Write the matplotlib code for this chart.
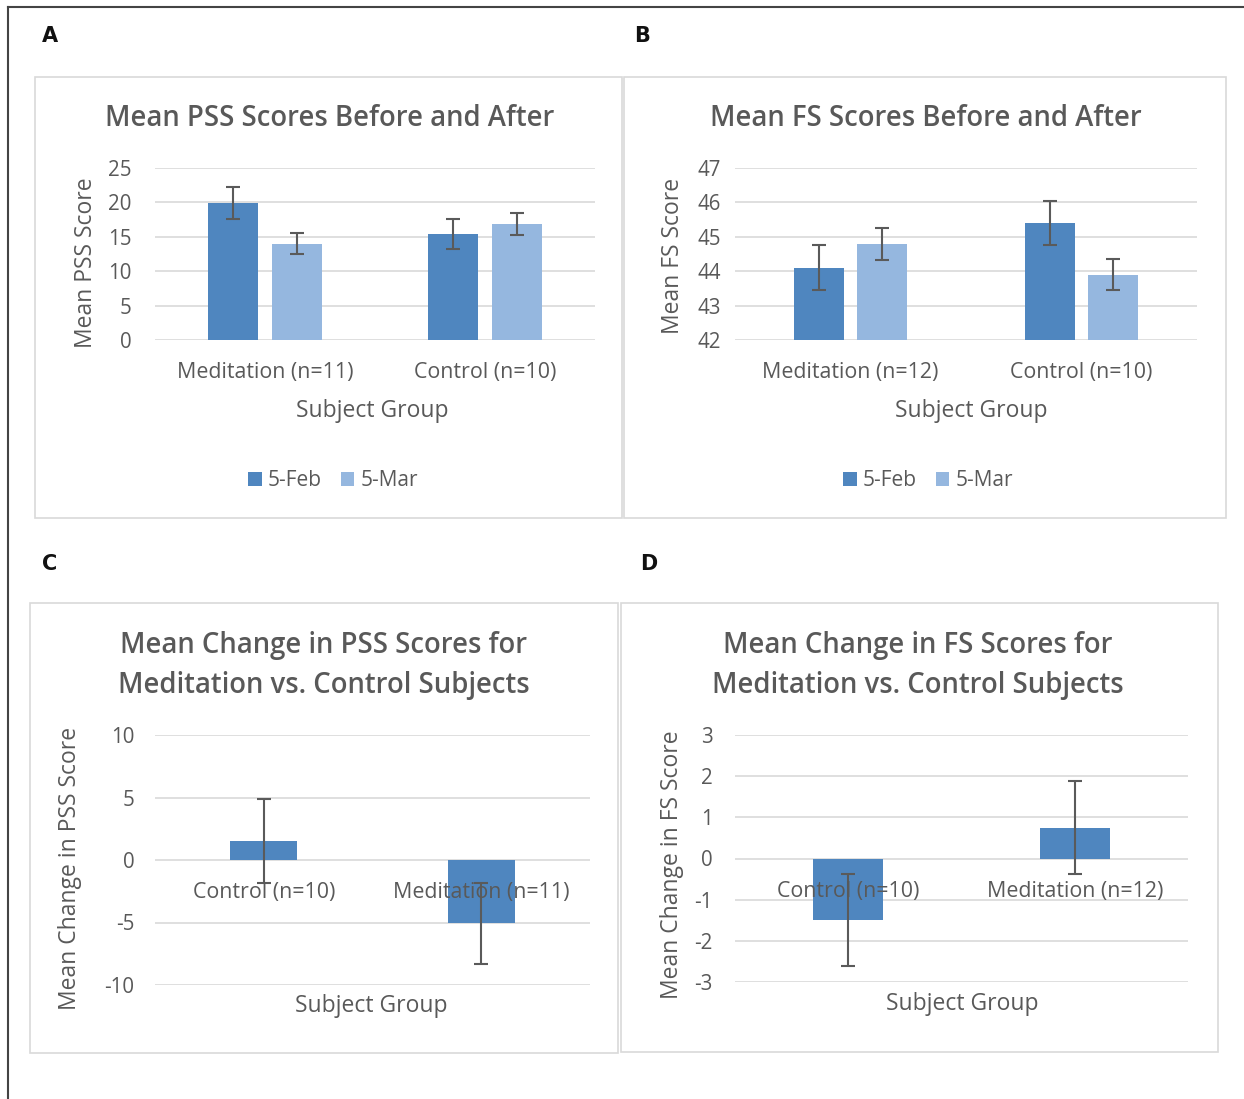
import matplotlib
matplotlib.use('Agg')
import matplotlib.pyplot as plt
from matplotlib.patches import Rectangle
import numpy as np

plt.rcParams['font.family'] = ['Open Sans', 'DejaVu Sans']
plt.rcParams['axes.unicode_minus'] = False

W, H = 1244, 1099

# --- data ---
pss_groups = ['Meditation (n=11)', 'Control (n=10)']
pss_feb = [19.9, 15.4]
pss_feb_err = [2.3, 2.2]
pss_mar = [14.0, 16.9]
pss_mar_err = [1.5, 1.6]

fs_groups = ['Meditation (n=12)', 'Control (n=10)']
fs_feb = [44.1, 45.4]
fs_feb_err = [0.65, 0.65]
fs_mar = [44.8, 43.9]
fs_mar_err = [0.47, 0.45]

dpss_groups = ['Control (n=10)', 'Meditation (n=11)']
dpss = [1.5, -5.05]
dpss_err = [3.35, 3.25]

dfs_groups = ['Control (n=10)', 'Meditation (n=12)']
dfs = [-1.5, 0.75]
dfs_err = [1.12, 1.13]

series_names = ['5-Feb', '5-Mar']

DARK = '#4f86bf'
LIGHT = '#95b7df'
TXT = '#595959'
GRID = '#d9d9d9'
ERR = '#5a5a5a'
TITLE_FS = 19.8
LAB_FS = 16.5


def px_rect(x0, y0, x1, y1):
    return [x0 / W, 1 - y1 / H, (x1 - x0) / W, (y1 - y0) / H]


def ftext(x, y, s, **kw):
    fig.text(x / W, 1 - y / H, s, **kw)


fig = plt.figure(figsize=(W / 100, H / 100), dpi=100)
fig.patch.set_facecolor('white')

# outer frame lines (top and left)
fig.add_artist(plt.Line2D([8 / W, 1], [1 - 7 / H, 1 - 7 / H], color='#444444', lw=1.5))
fig.add_artist(plt.Line2D([8 / W, 8 / W], [0, 1 - 7 / H], color='#444444', lw=1.5))

# panel boxes
for (x0, y0, x1, y1) in [(35, 77, 622, 518), (624, 77, 1226, 518),
                         (30, 603, 618, 1053), (621, 603, 1218, 1052)]:
    fig.add_artist(Rectangle((x0 / W, 1 - y1 / H), (x1 - x0) / W, (y1 - y0) / H,
                             transform=fig.transFigure, fill=False, ec='#d9d9d9', lw=1.2))

for s, x, y in [('A', 42, 36), ('B', 634, 36), ('C', 42, 564), ('D', 640, 564)]:
    ftext(x, y, s, fontsize=15, fontweight='bold', family='DejaVu Sans Condensed',
          va='center', ha='left', color='#111111')

ekw = dict(ecolor=ERR, elinewidth=1.5, capsize=5, capthick=1.5)


def style(ax, ylim, ticks, ypad, xpad):
    ax.set_ylim(*ylim)
    ax.set_yticks(ticks)
    ax.set_xlim(-0.5, 1.5)
    for sp in ax.spines.values():
        sp.set_visible(False)
    for t in ticks:
        ax.axhline(t, color=GRID, lw=1.2, zorder=0)
    ax.tick_params(length=0, labelcolor=TXT)
    ax.tick_params(axis='y', pad=ypad, labelsize=14.8)
    ax.tick_params(axis='x', pad=xpad, labelsize=15.4)


def legend(ax, xc, rect):
    x0, y0, x1, y1 = rect
    ax.legend(loc='center', bbox_to_anchor=((xc - x0) / (x1 - x0), -(481 - y1) / (y1 - y0)),
              ncol=2, frameon=False, fontsize=15, labelcolor=TXT, handlelength=0.65,
              handleheight=0.65, handletextpad=0.3, columnspacing=0.9)


def grouped(rect, groups, feb, feb_err, mar, mar_err, ylim, ticks, width, ypad):
    ax = fig.add_axes(px_rect(*rect))
    x = np.arange(len(groups))
    off = width / 2 + 0.03
    base = ylim[0]
    ax.bar(x - off, np.array(feb) - base, width, bottom=base, yerr=feb_err, color=DARK,
           label=series_names[0], error_kw=ekw)
    ax.bar(x + off, np.array(mar) - base, width, bottom=base, yerr=mar_err, color=LIGHT,
           label=series_names[1], error_kw=ekw)
    style(ax, ylim, ticks, ypad, 16)
    ax.set_xticks(x)
    ax.set_xticklabels(groups)
    return ax


rectA = (155, 168, 595, 340)
axA = grouped(rectA, pss_groups, pss_feb, pss_feb_err, pss_mar, pss_mar_err,
              (0, 25), range(0, 26, 5), 0.227, 17)
ftext(330, 119, 'Mean PSS Scores Before and After', fontsize=TITLE_FS, fontweight='semibold',
      color=TXT, ha='center', va='center')
ftext(86, 263, 'Mean PSS Score', fontsize=LAB_FS, color=TXT, rotation=90, ha='center', va='center')
ftext(372, 411, 'Subject Group', fontsize=LAB_FS, color=TXT, ha='center', va='center')
legend(axA, 333, rectA)

rectB = (735, 168, 1197, 340)
axB = grouped(rectB, fs_groups, fs_feb, fs_feb_err, fs_mar, fs_mar_err,
              (42, 47), range(42, 48), 0.216, 10)
ftext(926, 119, 'Mean FS Scores Before and After', fontsize=TITLE_FS, fontweight='semibold',
      color=TXT, ha='center', va='center')
ftext(673, 256, 'Mean FS Score', fontsize=LAB_FS, color=TXT, rotation=90, ha='center', va='center')
ftext(971, 411, 'Subject Group', fontsize=LAB_FS, color=TXT, ha='center', va='center')
legend(axB, 928, rectB)


def change(rect, groups, vals, errs, ylim, ticks, ypad):
    ax = fig.add_axes(px_rect(*rect))
    x = np.arange(len(groups))
    ax.bar(x, vals, 0.31, yerr=errs, color=DARK, error_kw=ekw)
    style(ax, ylim, ticks, ypad, 16)
    ax.spines['bottom'].set_position(('data', 0))
    ax.set_xticks(x)
    ax.set_xticklabels(groups)
    ax.xaxis.set_zorder(5)
    return ax


axC = change((155, 735, 590, 985), dpss_groups, dpss, dpss_err, (-10, 10), range(-10, 11, 5), 15)
ftext(324, 646, 'Mean Change in PSS Scores for', fontsize=TITLE_FS, fontweight='semibold',
      color=TXT, ha='center', va='center')
ftext(324, 685, 'Meditation vs. Control Subjects', fontsize=TITLE_FS, fontweight='semibold',
      color=TXT, ha='center', va='center')
ftext(70, 868, 'Mean Change in PSS Score', fontsize=LAB_FS, color=TXT, rotation=90,
      ha='center', va='center')
ftext(371, 1006, 'Subject Group', fontsize=LAB_FS, color=TXT, ha='center', va='center')

axD = change((735, 735, 1188, 982), dfs_groups, dfs, dfs_err, (-3, 3), range(-3, 4), 16)
ftext(918, 646, 'Mean Change in FS Scores for', fontsize=TITLE_FS, fontweight='semibold',
      color=TXT, ha='center', va='center')
ftext(918, 685, 'Meditation vs. Control Subjects', fontsize=TITLE_FS, fontweight='semibold',
      color=TXT, ha='center', va='center')
ftext(672, 865, 'Mean Change in FS Score', fontsize=LAB_FS, color=TXT, rotation=90,
      ha='center', va='center')
ftext(962, 1004, 'Subject Group', fontsize=LAB_FS, color=TXT, ha='center', va='center')

fig.savefig('out.png', dpi=100)
